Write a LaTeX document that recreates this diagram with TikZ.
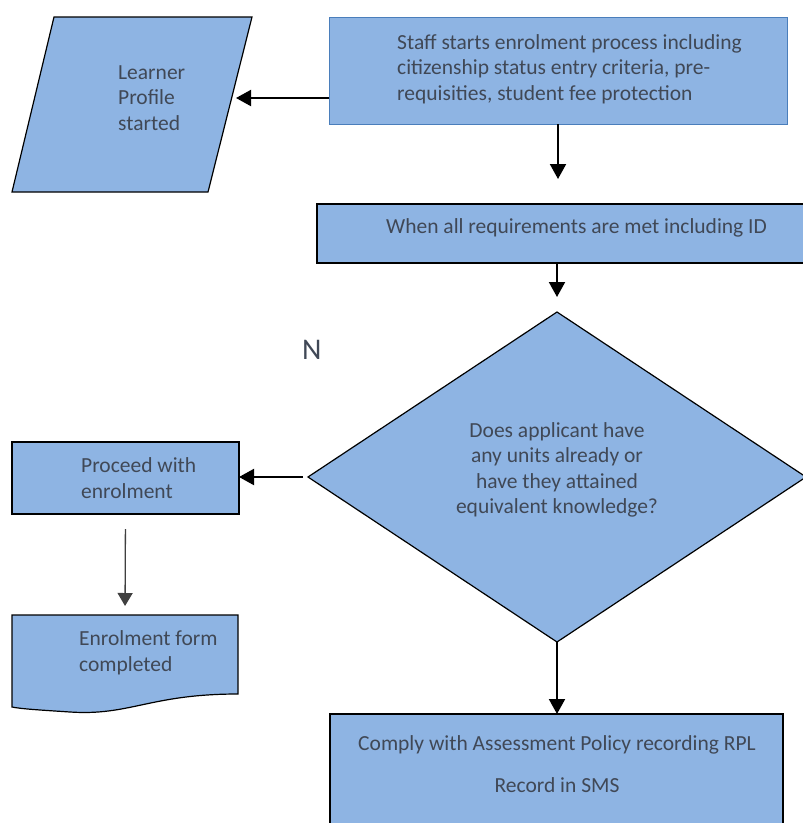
\documentclass[tikz,border=0pt]{standalone}
\usepackage{fontspec}
\setmainfont{Carlito}
\usetikzlibrary{shapes.geometric,arrows.meta}
\definecolor{boxblue}{RGB}{142,180,227}
\definecolor{txtgray}{RGB}{64,72,86}
\definecolor{edgeblue}{RGB}{74,126,187}
\tikzset{
  box/.style={draw=black,line width=1.2pt,fill=boxblue,inner sep=0pt,outer sep=0pt},
  lbl/.style={text=txtgray,inner sep=0pt,font=\fontsize{21.5}{25.5}\selectfont},
  flow/.style={line width=2pt,-{Triangle[length=15pt,width=16pt]}}
}
\begin{document}
\begin{tikzpicture}[x=1pt,y=-1pt]
  \useasboundingbox (0,0) rectangle (803,823);
  \clip (0,0) rectangle (803,823);
  % shapes
  \draw[box] (54,17) -- (252,17) -- (208,192) -- (12,192) -- cycle;
  \node[box,draw=edgeblue,line width=1pt,minimum width=458,minimum height=107] (staff) at (558,70.5) {};
  \node[box,minimum width=495,minimum height=59] (req) at (564.5,233.5) {};
  \node[box,diamond,minimum width=498,minimum height=330] (units) at (557,477) {};
  \node[box,minimum width=227,minimum height=72] (proceed) at (125.5,478) {};
  \draw[box] (12,615) -- (238,615) -- (238,694)
    .. controls (150,694) and (130,716) .. (70,712)
    .. controls (40,710) and (22,709) .. (12,707) -- cycle;
  \node[box,minimum width=453,minimum height=126] (rpl) at (556.5,777) {};
  \coordinate (profile) at (236,98);
  \coordinate (form) at (125,615);
  % texts
  \node[lbl,anchor=west,align=left] (profiletext) at (118,98) {Learner\\Profile\\started};
  \node[lbl,anchor=west,align=left] (stafftext) at (397,69) {Staff starts enrolment process including\\citizenship status entry criteria, pre-\\requisities, student fee protection};
  \node[lbl,anchor=west] (reqtext) at (386,228) {When all requirements are met including ID};
  \node[lbl,anchor=west,font=\fontsize{30}{36}\selectfont] (no) at (302,350) {N};
  \node[lbl,align=center] (unitstext) at (557,470) {Does applicant have\\any units already or\\have they attained\\equivalent knowledge?};
  \node[lbl,anchor=west,align=left] (proceedtext) at (81,478) {Proceed with\\enrolment};
  \node[lbl,anchor=west,align=left] (formtext) at (79,653) {Enrolment form\\completed};
  \node[lbl,align=center] (rpltext) at (557,764) {Comply with Assessment Policy recording RPL\\[16pt]Record in SMS};
  % connectors
  \draw[flow] (staff.west |- profile) -- (profile);
  \draw[flow,shorten >=25pt] (staff.south) -- (staff.south |- req.north);
  \draw[flow,shorten >=15pt] (req.south -| units.north) -- (units.north);
  \draw[flow,shorten <=5pt] (units.west) -- (units.west -| proceed.east);
  \draw[line width=1.3pt,draw=black!75,-{Triangle[length=13pt,width=15pt]},shorten <=15pt,shorten >=9pt] (proceed.south) -- (form);
  \draw[flow] (units.south) -- (units.south |- rpl.north);
\end{tikzpicture}
\end{document}
